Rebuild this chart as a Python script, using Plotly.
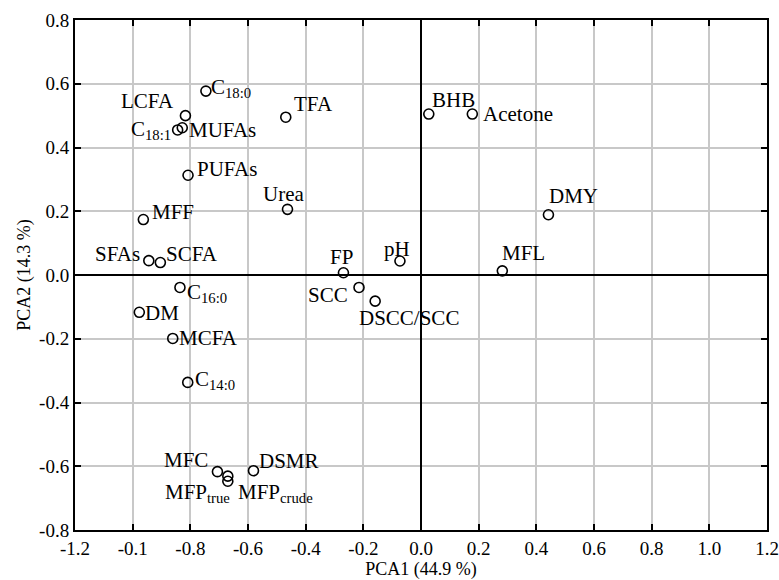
import plotly.graph_objects as go

# ---- data ----
labels = ["C<sub>18:0</sub>", "LCFA", "C<sub>18:1</sub>", "MUFAs", "PUFAs", "TFA", "Urea",
          "MFF", "SFAs", "SCFA", "FP", "pH", "C<sub>16:0</sub>", "SCC", "DSCC/SCC", "DM",
          "MCFA", "C<sub>14:0</sub>", "MFC", "DSMR", "MFP<sub>true</sub>", "MFP<sub>crude</sub>",
          "BHB", "Acetone", "DMY", "MFL"]
pc1 = [-0.746, -0.817, -0.844, -0.828, -0.808, -0.469, -0.463,
       -0.963, -0.944, -0.904, -0.269, -0.073, -0.836, -0.215, -0.159, -0.977,
       -0.861, -0.809, -0.706, -0.581, -0.670, -0.670,
       0.027, 0.178, 0.442, 0.282]
pc2 = [0.577, 0.500, 0.455, 0.462, 0.313, 0.495, 0.206,
       0.174, 0.045, 0.039, 0.007, 0.044, -0.039, -0.039, -0.082, -0.117,
       -0.199, -0.337, -0.617, -0.614, -0.647, -0.631,
       0.505, 0.505, 0.189, 0.013]

x_tickvals = [-1.2, -1.0, -0.8, -0.6, -0.4, -0.2, 0.0, 0.2, 0.4, 0.6, 0.8, 1.0, 1.2]
x_ticktext = ["-1.2", "-0.1", "-0.8", "-0.6", "-0.4", "-0.2", "0.0", "0.2", "0.4", "0.6", "0.8", "1.0", "1.2"]
y_tickvals = [-0.8, -0.6, -0.4, -0.2, 0.0, 0.2, 0.4, 0.6, 0.8]
y_ticktext = ["-0.8", "-0.6", "-0.4", "-0.2", "0.0", "0.2", "0.4", "0.6", "0.8"]

x_title = "PCA1 (44.9 %)"
y_title = "PCA2 (14.3 %)"

# ---- label placement (styling: anchor, pixel shifts) ----
placement = {
    "C<sub>18:0</sub>": ("left", 3, 3),
    "LCFA": ("right", -9, 15),
    "C<sub>18:1</sub>": ("right", -5, 0),
    "MUFAs": ("left", 5, -2),
    "PUFAs": ("left", 7, 6),
    "TFA": ("left", 6, 13),
    "Urea": ("center", -4, 15),
    "MFF": ("left", 7, 8),
    "SFAs": ("right", -7, 7),
    "SCFA": ("left", 4, 9),
    "FP": ("center", -2, 16),
    "pH": ("center", -3, 12),
    "C<sub>16:0</sub>": ("left", 5, -6),
    "SCC": ("right", -9, -8),
    "DSCC/SCC": ("left", -18, -17),
    "DM": ("left", 4, -1),
    "MCFA": ("left", 4, 0),
    "C<sub>14:0</sub>": ("left", 5, 2),
    "MFC": ("right", -7, 12),
    "DSMR": ("left", 4, 10),
    "MFP<sub>true</sub>": ("right", 4, -12),
    "MFP<sub>crude</sub>": ("left", 8, -17),
    "BHB": ("left", 1, 14),
    "Acetone": ("left", 9, 0),
    "DMY": ("left", -1, 19),
    "MFL": ("left", -2, 18),
}

FONT = "Liberation Serif"

fig = go.Figure()
fig.add_trace(go.Scatter(
    x=pc1, y=pc2, mode="markers",
    marker=dict(symbol="circle-open", size=10, color="black", line=dict(width=1.6, color="black")),
    hoverinfo="skip", showlegend=False,
))

for lab, xv, yv in zip(labels, pc1, pc2):
    anc, dx, dy = placement[lab]
    fig.add_annotation(x=xv, y=yv, text=lab, showarrow=False,
                       xanchor=anc, yanchor="middle", xshift=dx, yshift=dy,
                       font=dict(family=FONT, size=21, color="black"))

axis_common = dict(
    showgrid=True, gridcolor="#c8c8c8", gridwidth=1.5,
    zeroline=True, zerolinecolor="black", zerolinewidth=1.6,
    showline=True, linecolor="black", linewidth=2, mirror="ticks",
    ticks="inside", ticklen=6, tickwidth=1.5, tickcolor="black",
    tickfont=dict(family=FONT, size=19, color="black"),
    automargin=False,
)

fig.update_xaxes(range=[-1.2, 1.2], tickvals=x_tickvals, ticktext=x_ticktext,
                 title=dict(text=x_title, font=dict(family=FONT, size=18, color="black"), standoff=4),
                 **axis_common)
fig.update_yaxes(range=[-0.8, 0.8], tickvals=y_tickvals, ticktext=y_ticktext,
                 title=dict(text=y_title, font=dict(family=FONT, size=18, color="black"), standoff=4),
                 **axis_common)

fig.update_layout(
    width=779, height=580,
    margin=dict(l=75, r=12, t=20, b=50),
    plot_bgcolor="white", paper_bgcolor="white",
    font=dict(family=FONT, color="black"),
)

fig.write_html("out.html", config={"displayModeBar": False},
               post_script="document.body.style.margin='0';document.body.style.overflow='hidden';")
